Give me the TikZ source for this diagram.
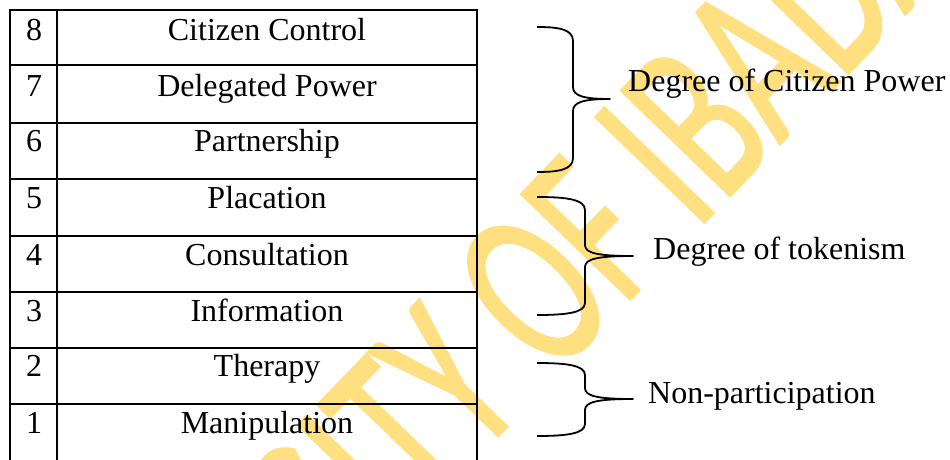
\documentclass[tikz,border=0pt]{standalone}
\usepackage{fontspec}
\setmainfont{Liberation Serif}
\newfontfamily\wmfont[FakeBold=1.2]{Carlito}
\definecolor{wmgold}{HTML}{FFE080}
\begin{document}
\begin{tikzpicture}[x=1pt,y=1pt,
  cell/.style={anchor=base,inner sep=0pt,font=\fontsize{32}{36}\selectfont},
  lbl/.style={anchor=base west,inner sep=0pt,font=\fontsize{32}{36}\selectfont},
  grid/.style={line width=2.3pt},
  brace/.style={line width=1.8pt,line join=round}]
\useasboundingbox (0,0) rectangle (950,-460);
\fill[white] (0,0) rectangle (950,-460);
% watermark
\node[anchor=base,inner sep=0pt,text=wmgold,rotate=46,yscale=1.54,
  font=\wmfont\fontsize{153}{160}\selectfont] (wm) at (526,-407) {UNIVERSITY OF IBADAN};
% table grid
\foreach \y in {10,65,122.7,179,236,291.7,348.3,404}
  \draw[grid] (10,-\y) -- (477.5,-\y);
\foreach \x in {10,57.3,477.3}
  \draw[grid] (\x,-8.85) -- (\x,-462);
% cells
\node[cell] (n8) at (34,-40.7) {8};
\node[cell] (t8) at (267,-40.7) {Citizen Control};
\node[cell] (n7) at (34,-96.7) {7};
\node[cell] (t7) at (267,-96.7) {Delegated Power};
\node[cell] (n6) at (34,-151.7) {6};
\node[cell] (t6) at (267,-151.7) {Partnership};
\node[cell] (n5) at (34,-208) {5};
\node[cell] (t5) at (267,-208) {Placation};
\node[cell] (n4) at (34,-265) {4};
\node[cell] (t4) at (267,-265) {Consultation};
\node[cell] (n3) at (34,-321) {3};
\node[cell] (t3) at (267,-321) {Information};
\node[cell] (n2) at (34,-376.7) {2};
\node[cell] (t2) at (267,-376.7) {Therapy};
\node[cell] (n1) at (34,-433.3) {1};
\node[cell] (t1) at (267,-433.3) {Manipulation};
% braces
\draw[brace] (537,-27) .. controls (558,-27) and (573,-29) .. (573,-41) -- (573,-87)
  .. controls (573,-96) and (584,-99) .. (610,-99)
  .. controls (584,-99) and (573,-102) .. (573,-111) -- (573,-158)
  .. controls (573,-170) and (558,-172) .. (537,-172);
\draw[brace] (537,-197) .. controls (565,-197) and (585,-199) .. (585,-210) -- (585,-245)
  .. controls (585,-253) and (597,-256) .. (633,-256)
  .. controls (597,-256) and (585,-259) .. (585,-267) -- (585,-303)
  .. controls (585,-313) and (565,-315) .. (537,-315);
\draw[brace] (537,-363) .. controls (565,-363) and (585,-365) .. (585,-375) -- (585,-388)
  .. controls (585,-396) and (597,-399) .. (633,-399)
  .. controls (597,-399) and (585,-402) .. (585,-410) -- (585,-424)
  .. controls (585,-434) and (565,-436) .. (537,-436);
% labels
\node[lbl] (l1) at (628,-91) {Degree of Citizen Power};
\node[lbl] (l2) at (653,-259) {Degree of tokenism};
\node[lbl] (l3) at (648,-403) {Non-participation};
\end{tikzpicture}
\end{document}
